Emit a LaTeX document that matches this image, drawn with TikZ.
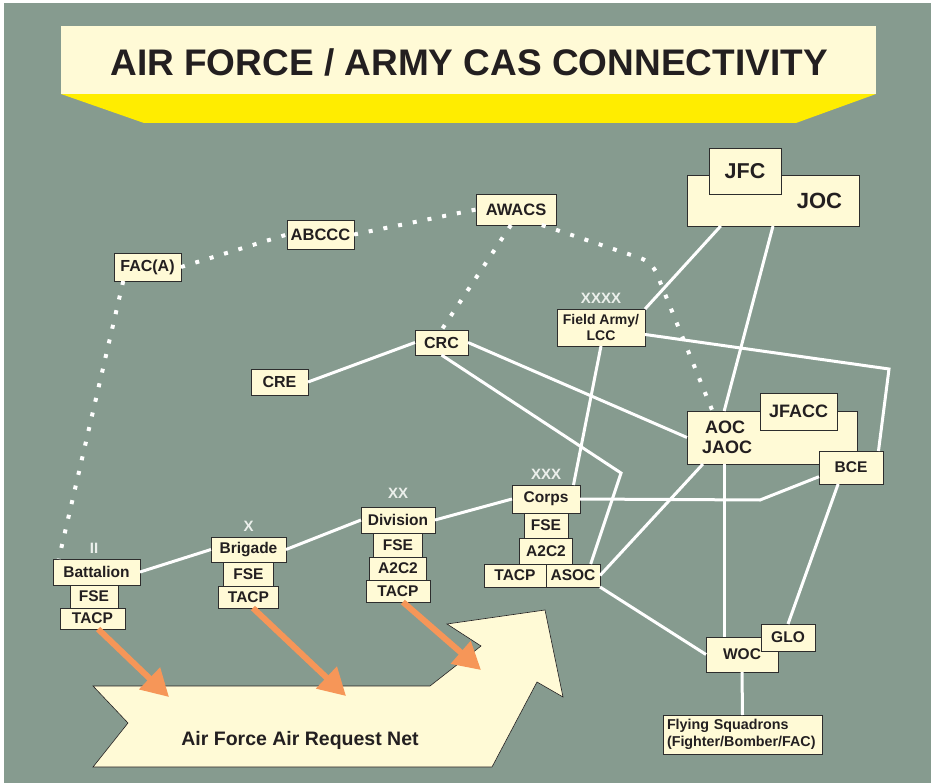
\documentclass[tikz,border=0pt]{standalone}
\usepackage{fontspec}
\setmainfont{Liberation Sans}
\usepackage{tikz}
\usetikzlibrary{positioning,arrows.meta}

\definecolor{bggray}{RGB}{134,155,143}
\definecolor{cream}{RGB}{255,250,214}
\definecolor{banner}{RGB}{255,237,0}
\definecolor{ink}{RGB}{35,31,32}
\definecolor{boxline}{RGB}{45,45,45}
\definecolor{reqorange}{RGB}{246,150,88}
\definecolor{rankwhite}{RGB}{236,240,236}

\tikzset{
  box/.style={draw=boxline, fill=cream, line width=0.8pt, inner sep=0pt, outer sep=0pt,
    text=ink, font=\bfseries\fontsize{15.5}{18}\selectfont},
  dims/.style 2 args={minimum width=#1pt, minimum height=#2pt},
  rank/.style={text=rankwhite, inner sep=0pt, font=\bfseries\fontsize{15}{15}\selectfont},
  link/.style={draw=white, line width=3pt},
  radio/.style={draw=white, line width=4pt, dash pattern=on 4pt off 11pt},
  request/.style={draw=reqorange, line width=6pt, -{Triangle[length=27pt,width=29pt]}}
}

\begin{document}
\begin{tikzpicture}[x=1pt, y=-1pt] % pixel grid, y runs down
\useasboundingbox (0,0) rectangle (931,783);
\fill[white] (0,0) rectangle (931,783);
\fill[bggray] (4,3) rectangle (931,783);

% title banner
\fill[banner] (61,94) -- (876,94) -- (796,123) -- (144,123) -- cycle;
\fill[cream] (61,26) rectangle (876,94);
\node (title) at (469,62) [text=ink, font=\bfseries\fontsize{37}{37}\selectfont] {AIR FORCE / ARMY CAS CONNECTIVITY};

% request net
\filldraw[fill=cream, draw=ink, line width=0.6pt] (93,686) -- (430,686) -- (481,646) -- (447,624) -- (545,610)
  -- (563,697) -- (537,682) -- (492,767) -- (93,767) -- (128,723) -- cycle;
\node (net) at (300,740) [text=ink, font=\bfseries\fontsize{19.5}{20}\selectfont] {Air Force Air Request Net};

% air side
\node (fac)   [box, dims={67}{28}, font=\bfseries\fontsize{16}{18}\selectfont] at (147.5,267) {FAC(A)};
\node (abccc) [box, dims={67}{29}, font=\bfseries\fontsize{16.5}{18}\selectfont] at (320.5,234.5) {ABCCC};
\node (awacs) [box, dims={80}{31}, font=\bfseries\fontsize{16.5}{18}\selectfont] at (516,209.5) {AWACS};
\node (crc)   [box, dims={53}{25}, font=\bfseries\fontsize{16}{18}\selectfont] at (441.5,342.5) {CRC};
\node (cre)   [box, dims={57}{26}, font=\bfseries\fontsize{16}{18}\selectfont] at (279.5,382) {CRE};

\node (joc) [box, dims={172}{51}, text width=138pt, inner xsep=17pt, align=right,
  font=\bfseries\fontsize{22}{24}\selectfont] at (773,200.5) {JOC};
\node (jfc) [box, dims={72}{46}, font=\bfseries\fontsize{21.5}{24}\selectfont] at (745,171) {JFC};

\node (army) [box, dims={88}{37}, align=center, font=\bfseries\fontsize{14}{16.5}\selectfont] at (601,327.5) {Field Army/\\LCC};
\node (armyrank) [rank, above=5pt of army] {XXXX};

\node (aoc) [box, dims={170}{53}, text width=140pt, inner xsep=15pt, align=left,
  font=\bfseries\fontsize{18}{19.5}\selectfont] at (772,437.5) {\hspace*{3pt}AOC\\JAOC};
\node (jfacc) [box, dims={77}{37}, font=\bfseries\fontsize{18}{20}\selectfont] at (798.5,411.5) {JFACC};
\node (bce) [box, dims={64}{33}] at (851,467.5) {BCE};

\node (woc) [box, dims={72}{35}] at (742,654.5) {WOC};
\node (glo) [box, dims={54}{27}] at (788,637.5) {GLO};
\node (fly) [box, dims={159}{39}, text width=151pt, inner xsep=4pt, align=left,
  font=\bfseries\fontsize{14.3}{16.5}\selectfont] at (742.5,734.5) {Flying Squadrons\\(Fighter/Bomber/FAC)};

% army echelons
\node (bn) [box, dims={87}{26}] at (96.5,572) {Battalion};
\node (bnfse) [box, dims={48}{23}, below=0pt of bn, xshift=-2.5pt] {FSE};
\node (bntacp) [box, dims={65}{21}, below=0pt of bnfse, xshift=-1.5pt] {TACP};
\node (bnrank) [rank, above=5pt of bn, xshift=-2.5pt] {II};

\node (bde) [box, dims={75}{25}] at (248.5,549.5) {Brigade};
\node (bdefse) [box, dims={50}{24}, below=0pt of bde] {FSE};
\node (bdetacp) [box, dims={60}{22}, below=0pt of bdefse] {TACP};
\node (bderank) [rank, above=5pt of bde] {X};

\node (div) [box, dims={74}{26}] at (398,520) {Division};
\node (divfse) [box, dims={49}{24}, below=0pt of div] {FSE};
\node (diva2c2) [box, dims={57}{23}, below=0pt of divfse] {A2C2};
\node (divtacp) [box, dims={64}{22}, below=0pt of diva2c2] {TACP};
\node (divrank) [rank, above=8pt of div] {XX};

\node (crp) [box, dims={68}{28}] at (546,499) {Corps};
\node (crpfse) [box, dims={44}{25}, below=0pt of crp] {FSE};
\node (crpa2c2) [box, dims={53}{26}, below=0pt of crpfse] {A2C2};
\node (asoc) [box, dims={54}{23}, anchor=north west] at (crpa2c2.south) {ASOC};
\node (crptacp) [box, dims={62}{23}, left=0pt of asoc] {TACP};
\node (crprank) [rank, above=5pt of crp] {XXX};

% wire links
\draw[link] (bn.east) -- (bde.west);
\draw[link] (bde.east) -- (div.west);
\draw[link] (div.east) -- (crp.west);
\draw[link] (cre.east) -- (crc.west);
\draw[link] (crc.east) -- (aoc.west);
\draw[link] (crc.south) -- (621,473) -- (asoc.33);
\draw[link] (army.south) -- (crp.27);
\draw[link] (army.north east) -- (joc.206);
\draw[link] (joc.south) -- (aoc.151);
\draw[link] (army.-9) -- (889,369) -- (bce.31);
\draw[link] (crp.east) -- (760,500) -- (bce.196);
\draw[link] (asoc.east) -- (aoc.201);
\draw[link] (aoc.209) -- (aoc.209 |- woc.north);
\draw[link] (asoc.south east) -- (woc.west);
\draw[link] (bce.232) -- (glo.north);
\draw[link] (woc.south) -- (fly.north);

% radio links
\draw[radio] (fac.210) -- (bn.161);
\draw[radio] (fac.east) -- (abccc.west);
\draw[radio] (abccc.east) -- (awacs.west);
\draw[radio] (awacs.252) -- (crc.north);
\draw[radio, rounded corners=12pt] (awacs.-31) -- (652,262) -- (aoc.156);

% air requests
\coordinate (hit1) at (169,697);
\coordinate (hit2) at (346,696);
\coordinate (hit3) at (481,670);
\draw[request] (bntacp.-62) -- (hit1);
\draw[request] (bdetacp.-68) -- (hit2);
\draw[request] (divtacp.-66) -- (hit3);

\end{tikzpicture}
\end{document}
